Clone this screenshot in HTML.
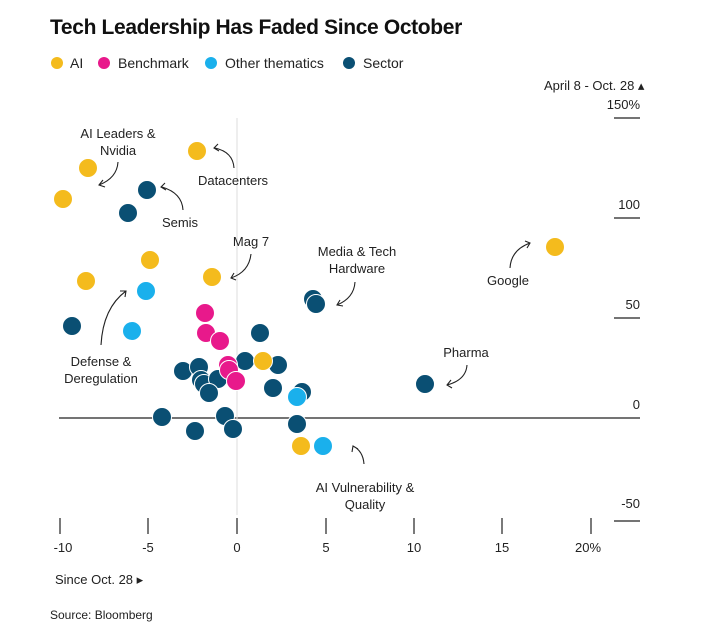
<!DOCTYPE html>
<html><head><meta charset="utf-8"><style>
body{margin:0;background:#fff;font-family:"Liberation Sans",sans-serif;}
</style></head><body>
<svg width="706" height="633" xmlns="http://www.w3.org/2000/svg" font-family="Liberation Sans, sans-serif">
<text x="50" y="34" font-size="21" font-weight="bold" fill="#111" letter-spacing="-0.35">Tech Leadership Has Faded Since October</text>
<g font-size="14" fill="#222">
<circle cx="57" cy="63" r="6" fill="#f4bb1d"/><text x="70" y="68">AI</text>
<circle cx="104" cy="63" r="6" fill="#e8198b"/><text x="118" y="68">Benchmark</text>
<circle cx="211" cy="63" r="6" fill="#1ab0ec"/><text x="225" y="68">Other thematics</text>
<circle cx="349" cy="63" r="6" fill="#0a4f73"/><text x="363" y="68">Sector</text>
</g>
<g font-size="13" fill="#222">
<text x="544" y="90">April 8 - Oct. 28 ▴</text>
<text x="640" y="109" text-anchor="end">150%</text>
<text x="640" y="209" text-anchor="end">100</text>
<text x="640" y="309" text-anchor="end">50</text>
<text x="640" y="409" text-anchor="end">0</text>
<text x="640" y="508" text-anchor="end">-50</text>
</g>
<g stroke="#222" stroke-width="1.3">
<line x1="614" y1="118" x2="640" y2="118"/><line x1="614" y1="218" x2="640" y2="218"/>
<line x1="614" y1="318" x2="640" y2="318"/><line x1="614" y1="521" x2="640" y2="521"/>
<line x1="59" y1="418" x2="640" y2="418"/>
</g>
<line x1="237" y1="118" x2="237" y2="515" stroke="#ddd" stroke-width="1"/>
<g stroke="#222" stroke-width="1.2">
<line x1="60" y1="518" x2="60" y2="534"/><line x1="148" y1="518" x2="148" y2="534"/>
<line x1="237" y1="518" x2="237" y2="534"/><line x1="326" y1="518" x2="326" y2="534"/>
<line x1="414" y1="518" x2="414" y2="534"/><line x1="502" y1="518" x2="502" y2="534"/>
<line x1="591" y1="518" x2="591" y2="534"/>
</g>
<g font-size="13" fill="#222" text-anchor="middle">
<text x="63" y="552">-10</text><text x="148" y="552">-5</text><text x="237" y="552">0</text>
<text x="326" y="552">5</text><text x="414" y="552">10</text><text x="502" y="552">15</text><text x="588" y="552">20%</text>
</g>
<text x="55" y="584" font-size="13" fill="#222">Since Oct. 28 ▸</text>
<text x="50" y="619" font-size="12" fill="#222">Source: Bloomberg</text>
<g stroke="#fff" stroke-width="1">
<g fill="#0a4f73">
<circle cx="147" cy="190" r="9.5"/><circle cx="128" cy="213" r="9.5"/><circle cx="72" cy="326" r="9.5"/>
<circle cx="313" cy="299" r="9.5"/><circle cx="316" cy="304" r="9.5"/><circle cx="260" cy="333" r="9.5"/>
<circle cx="183" cy="371" r="9.5"/><circle cx="199" cy="367" r="9.5"/><circle cx="201" cy="380" r="9.5"/>
<circle cx="204" cy="384" r="9.5"/><circle cx="218" cy="379" r="9.5"/><circle cx="209" cy="393" r="9.5"/>
<circle cx="245" cy="361" r="9.5"/><circle cx="278" cy="365" r="9.5"/><circle cx="273" cy="388" r="9.5"/>
<circle cx="302" cy="392" r="9.5"/><circle cx="425" cy="384" r="9.5"/><circle cx="162" cy="417" r="9.5"/>
<circle cx="225" cy="416" r="9.5"/><circle cx="195" cy="431" r="9.5"/><circle cx="233" cy="429" r="9.5"/>
<circle cx="297" cy="424" r="9.5"/>
</g>
<g fill="#e8198b">
<circle cx="205" cy="313" r="9.5"/><circle cx="206" cy="333" r="9.5"/><circle cx="220" cy="341" r="9.5"/>
<circle cx="228" cy="365" r="9.5"/><circle cx="229" cy="370" r="9.5"/><circle cx="236" cy="381" r="9.5"/>
</g>
<g fill="#1ab0ec">
<circle cx="146" cy="291" r="9.5"/><circle cx="132" cy="331" r="9.5"/><circle cx="297" cy="397" r="9.5"/><circle cx="323" cy="446" r="9.5"/>
</g>
<g fill="#f4bb1d">
<circle cx="88" cy="168" r="9.5"/><circle cx="63" cy="199" r="9.5"/><circle cx="197" cy="151" r="9.5"/>
<circle cx="150" cy="260" r="9.5"/><circle cx="86" cy="281" r="9.5"/><circle cx="212" cy="277" r="9.5"/>
<circle cx="263" cy="361" r="9.5"/><circle cx="555" cy="247" r="9.5"/><circle cx="301" cy="446" r="9.5"/>
</g>
</g>
<g font-size="13" fill="#222" text-anchor="middle">
<text x="118" y="138">AI Leaders &amp;</text><text x="118" y="155">Nvidia</text>
<text x="233" y="185">Datacenters</text>
<text x="180" y="227">Semis</text>
<text x="251" y="246">Mag 7</text>
<text x="357" y="256">Media &amp; Tech</text><text x="357" y="273">Hardware</text>
<text x="508" y="285">Google</text>
<text x="101" y="366">Defense &amp;</text><text x="101" y="383">Deregulation</text>
<text x="466" y="357">Pharma</text>
<text x="365" y="492">AI Vulnerability &amp;</text><text x="365" y="509">Quality</text>
</g>
<g fill="none" stroke="#222" stroke-width="1.1">
<path d="M118 162 Q117 178 99 185 M103 180 L99 185 L105 187"/>
<path d="M234 168 Q233 152 215 148 M218 144 L214 148 L219 151"/>
<path d="M183 210 Q182 193 162 187 M165 183 L161 187 L166 190"/>
<path d="M251 254 Q249 272 231 278 M234 273 L231 278 L236 280"/>
<path d="M355 282 Q354 298 337 305 M340 300 L337 305 L343 306"/>
<path d="M510 268 Q511 250 530 243 M525 241 L530 243 L527 248"/>
<path d="M101 345 Q103 308 126 291 M120 291 L126 291 L125 297"/>
<path d="M467 365 Q466 380 447 385 M451 380 L447 385 L452 388"/>
<path d="M364 464 Q363 451 353 446 M352 452 L353 446 L358 449"/>
</g>
</svg>
</body></html>
